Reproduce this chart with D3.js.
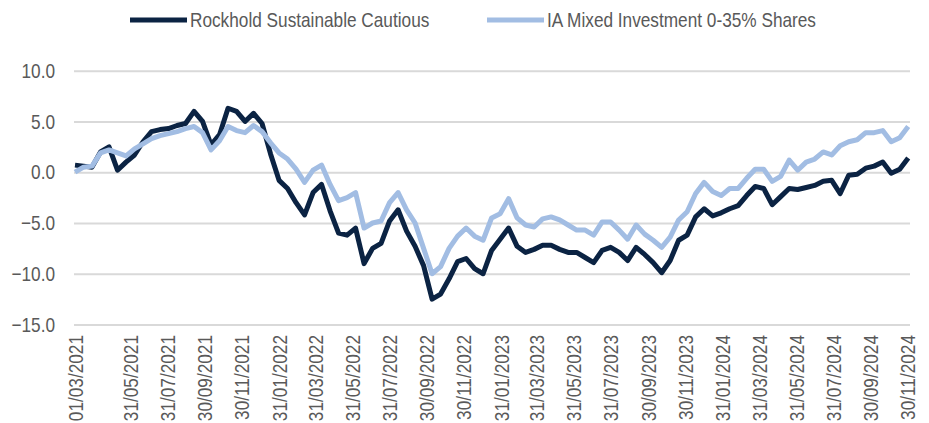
<!DOCTYPE html>
<html>
<head>
<meta charset="utf-8">
<script src="https://cdn.jsdelivr.net/npm/d3@7"></script>
<style>
    body { margin: 0; background: #fff; }
    text { font-family: "Liberation Sans", Arial, sans-serif; fill: #595959; }
</style>
</head>
<body>
<div id="chart"></div>
<script>
// fortnightly readings, starting 01/03/2021
const startDate = "01/03/2021";
const stepDays = 14;

const rockhold = [
    0.7, 0.6, 0.5, 2.0, 2.5, 0.2, 1.0, 1.7, 3.0, 4.0,
    4.2, 4.3, 4.6, 4.8, 6.0, 5.0, 2.7, 3.7, 6.3, 6.0,
    5.0, 5.8, 4.8, 1.8, -0.8, -1.6, -3.0, -4.2, -2.0, -1.2,
    -3.8, -6.0, -6.2, -5.5, -9.0, -7.5, -7.0, -4.8, -3.7, -5.8,
    -7.3, -9.2, -12.5, -12.0, -10.5, -8.8, -8.5, -9.5, -10.0, -7.7,
    -6.6, -5.5, -7.3, -7.9, -7.6, -7.2, -7.2, -7.6, -7.9, -7.9,
    -8.4, -8.9, -7.7, -7.4, -7.9, -8.7, -7.4, -8.1, -8.9, -9.9,
    -8.7, -6.7, -6.2, -4.4, -3.6, -4.3, -4.0, -3.6, -3.3, -2.3,
    -1.4, -1.6, -3.2, -2.4, -1.6, -1.7, -1.5, -1.3, -0.9, -0.8,
    -2.1, -0.3, -0.2, 0.4, 0.6, 1.0, -0.1, 0.3, 1.4
];

const iaMixed = [
    0.0, 0.5, 0.6, 1.9, 2.2, 1.9, 1.6, 2.3, 2.8, 3.3,
    3.6, 3.8, 4.0, 4.3, 4.5, 3.9, 2.2, 3.1, 4.5, 4.1,
    3.9, 4.6, 4.0, 2.9, 1.9, 1.3, 0.3, -1.0, 0.2, 0.7,
    -1.2, -2.8, -2.5, -2.0, -5.5, -5.0, -4.8, -3.0, -2.0, -3.7,
    -5.0, -7.5, -10.0, -9.3, -7.5, -6.3, -5.5, -6.3, -6.7, -4.5,
    -4.1, -2.6, -4.5, -5.2, -5.4, -4.6, -4.4, -4.7, -5.2, -5.7,
    -5.7, -6.2, -4.9, -4.9, -5.7, -6.6, -5.2, -6.1, -6.7, -7.4,
    -6.4, -4.7, -3.9, -2.1, -1.0, -1.9, -2.3, -1.6, -1.6, -0.6,
    0.3, 0.3, -0.9, -0.4, 1.2, 0.2, 1.0, 1.3, 2.0, 1.7,
    2.6, 3.0, 3.2, 3.9, 3.9, 4.1, 3.0, 3.4, 4.5
];

const seriesNames = ["Rockhold Sustainable Cautious", "IA Mixed Investment 0-35% Shares"];
const seriesColors = ["#0b2343", "#a2bde3"];

const xTickLabels = [
    "01/03/2021", "31/05/2021", "31/07/2021", "30/09/2021", "30/11/2021",
    "31/01/2022", "31/03/2022", "31/05/2022", "31/07/2022", "30/09/2022", "30/11/2022",
    "31/01/2023", "31/03/2023", "31/05/2023", "31/07/2023", "30/09/2023", "30/11/2023",
    "31/01/2024", "31/03/2024", "31/05/2024", "31/07/2024", "30/09/2024", "30/11/2024"
];
const yTicks = [-15, -10, -5, 0, 5, 10];

const width = 929, height = 423;
const fontSize = "21px";
const parse = d3.timeParse("%d/%m/%Y");
const fmt = d3.timeFormat("%d/%m/%Y");
const start = parse(startDate);

// no Arial Narrow here, so squeeze Liberation Sans to the same width
function narrow(sel) {
    sel.each(function () {
        const w = this.getComputedTextLength();
        d3.select(this).attr("textLength", w * 0.82).attr("lengthAdjust", "spacingAndGlyphs");
    });
}

const series = [rockhold, iaMixed].map(vals =>
    vals.map((v, i) => ({ date: d3.timeDay.offset(start, i * stepDays), value: v })));

const svg = d3.select("#chart").append("svg")
    .attr("width", width)
    .attr("height", height);

const x = d3.scaleTime()
    .domain([start, parse(xTickLabels[xTickLabels.length - 1])])
    .range([75, 907]);

const y = d3.scaleLinear()
    .domain([-15, 10])
    .range([324.5, 70.7]);

// gridlines + y labels
const yAxis = svg.append("g")
    .attr("transform", "translate(74,0)")
    .call(d3.axisLeft(y).tickValues(yTicks).tickSize(-836).tickPadding(19).tickFormat(d3.format(".1f")));
yAxis.select(".domain").remove();
yAxis.selectAll("line").attr("stroke", "#d9d9d9").attr("stroke-width", 2);
yAxis.selectAll("text").style("font-size", fontSize).call(narrow);

// x labels
const xAxis = svg.append("g")
    .attr("transform", "translate(0,325)")
    .call(d3.axisBottom(x).tickValues(xTickLabels.map(parse)).tickSize(0).tickFormat(fmt));
xAxis.select(".domain").remove();
xAxis.selectAll("text")
    .attr("transform", "rotate(-90)")
    .attr("x", -10)
    .attr("y", 0)
    .attr("dy", "0.35em")
    .style("text-anchor", "end")
    .style("font-size", fontSize)
    .call(narrow);

const line = d3.line()
    .x(d => x(d.date))
    .y(d => y(d.value));

series.forEach((s, k) => {
    svg.append("path")
        .datum(s)
        .attr("fill", "none")
        .attr("stroke", seriesColors[k])
        .attr("stroke-width", 5)
        .attr("stroke-linejoin", "round")
        .attr("d", line);
});

// legend
const legendX = [130, 487];
seriesNames.forEach((name, k) => {
    const g = svg.append("g").attr("transform", `translate(${legendX[k]},20)`);
    g.append("line")
        .attr("x1", 0).attr("x2", 57)
        .attr("stroke", seriesColors[k])
        .attr("stroke-width", 5);
    g.append("text")
        .attr("x", 60)
        .attr("dy", "0.35em")
        .style("font-size", fontSize)
        .text(name)
        .call(narrow);
});
</script>
</body>
</html>
